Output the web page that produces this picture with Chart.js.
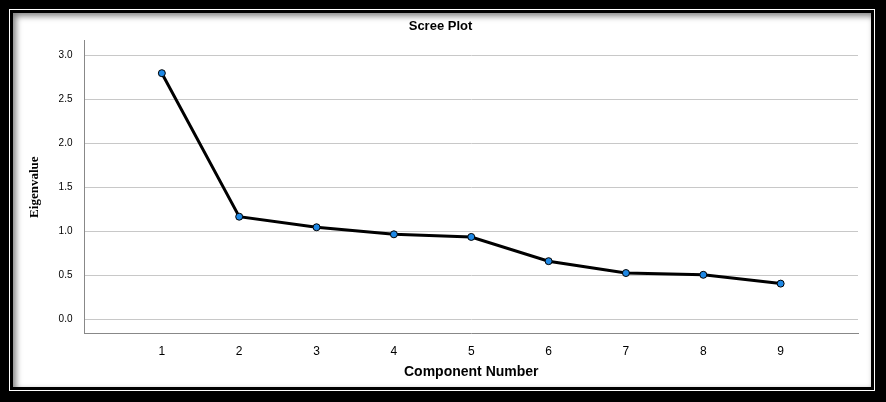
<!DOCTYPE html>
<html>
<head>
<script src="https://cdn.jsdelivr.net/npm/chart.js@4"></script>
<style>
  html, body { margin: 0; padding: 0; background: #000; }
  #frame {
    position: absolute; left: 9px; top: 9px; width: 866px; height: 382px;
    border: 1px solid #fff; box-sizing: border-box; background: #000;
  }
  #inner {
    position: absolute; left: 3px; top: 3px; right: 3px; bottom: 3px;
    background: #fff; box-shadow: inset 3px 3px 6px rgba(0,0,0,0.5);
  }
  canvas { position: absolute; left: 0; top: 0; }
</style>
</head>
<body>
<div id="frame"><div id="inner"><canvas id="c" width="858" height="374"></canvas></div></div>
<script>
const components = [1, 2, 3, 4, 5, 6, 7, 8, 9];
const eigenvalues = [2.80, 1.17, 1.05, 0.97, 0.94, 0.665, 0.53, 0.51, 0.41];
const yTicks = [0.0, 0.5, 1.0, 1.5, 2.0, 2.5, 3.0];

const ctx = document.getElementById('c').getContext('2d');
new Chart(ctx, {
  type: 'scatter',
  data: {
    datasets: [{
      data: components.map((x, i) => ({ x: x, y: eigenvalues[i] })),
      showLine: true,
      borderColor: '#000',
      borderWidth: 3,
      pointBackgroundColor: '#1e88e5',
      pointBorderColor: '#000',
      pointBorderWidth: 1,
      pointRadius: 3.5,
      tension: 0
    }]
  },
  options: {
    responsive: false,
    animation: false,
    layout: { padding: { left: 10, right: 13, top: 4, bottom: 2 } },
    plugins: {
      legend: { display: false },
      tooltip: { enabled: false },
      title: {
        display: true, text: 'Scree Plot', color: '#000',
        font: { family: 'Liberation Sans', size: 13, weight: 'bold' },
        padding: { top: 2, bottom: 6 }
      }
    },
    scales: {
      x: {
        type: 'linear', min: 0, max: 10,
        afterBuildTicks: axis => { axis.ticks = components.map(v => ({ value: v })); },
        grid: { display: false, drawTicks: true },
        border: { color: '#888' },
        ticks: { color: '#000', font: { family: 'Liberation Sans', size: 12 } },
        title: {
          display: true, text: 'Component Number', color: '#000',
          font: { family: 'Liberation Sans', size: 14, weight: 'bold' }, padding: { top: 2 }
        }
      },
      y: {
        min: -0.16, max: 3.17,
        afterBuildTicks: axis => { axis.ticks = yTicks.map(v => ({ value: v })); },
        grid: { color: '#c8c8c8', drawTicks: false },
        border: { color: '#888' },
        ticks: {
          color: '#000', padding: 12,
          font: { family: 'Liberation Sans', size: 10 },
          callback: v => v.toFixed(1)
        },
        title: {
          display: true, text: 'Eigenvalue', color: '#000',
          font: { family: 'Liberation Sans Narrow', size: 13, weight: 'bold' }
        }
      }
    }
  }
});
</script>
</body>
</html>
